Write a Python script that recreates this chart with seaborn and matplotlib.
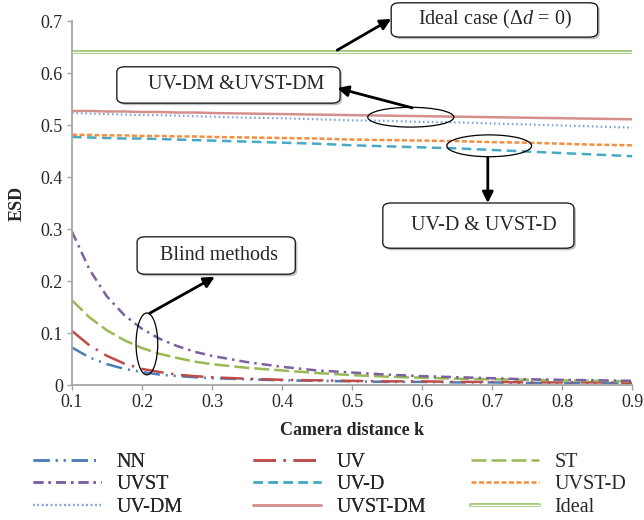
import numpy as np
import pandas as pd
import matplotlib
matplotlib.use("Agg")
import matplotlib.pyplot as plt
import matplotlib.patheffects as pe
from matplotlib.patches import Ellipse, FancyBboxPatch
import seaborn as sns

# ---------------- data ----------------
k = [0.100, 0.125, 0.150, 0.175, 0.200, 0.225, 0.250, 0.275, 0.300,
     0.35, 0.40, 0.45, 0.50, 0.55, 0.60, 0.65, 0.70, 0.75, 0.80, 0.85, 0.90]
nn = [0.072, 0.053, 0.040, 0.031, 0.025, 0.020, 0.017, 0.015, 0.013,
      0.011, 0.009, 0.008, 0.007, 0.006, 0.006, 0.005, 0.005, 0.004, 0.004, 0.004, 0.003]
uv = [0.104, 0.076, 0.056, 0.041, 0.031, 0.025, 0.020, 0.017, 0.015,
      0.012, 0.010, 0.009, 0.008, 0.007, 0.007, 0.006, 0.006, 0.005, 0.005, 0.005, 0.004]
st = [0.163, 0.130, 0.105, 0.086, 0.071, 0.060, 0.052, 0.045, 0.040,
      0.033, 0.028, 0.023, 0.019, 0.016, 0.014, 0.012, 0.011, 0.010, 0.009, 0.008, 0.007]
uvst = [0.295, 0.222, 0.170, 0.134, 0.108, 0.089, 0.075, 0.064, 0.056,
        0.044, 0.035, 0.028, 0.024, 0.020, 0.017, 0.015, 0.013, 0.011, 0.010, 0.009, 0.008]
uv_d = [0.477, 0.476, 0.475, 0.474, 0.474, 0.473, 0.472, 0.471, 0.470,
        0.468, 0.466, 0.464, 0.461, 0.459, 0.457, 0.455, 0.452, 0.449, 0.446, 0.443, 0.440]
uvst_d = [0.481, 0.481, 0.480, 0.480, 0.479, 0.479, 0.478, 0.478, 0.477,
          0.476, 0.475, 0.474, 0.472, 0.471, 0.470, 0.469, 0.467, 0.466, 0.464, 0.462, 0.461]
uv_dm = [0.523, 0.522, 0.521, 0.520, 0.519, 0.519, 0.518, 0.517, 0.516,
         0.514, 0.513, 0.511, 0.509, 0.508, 0.506, 0.505, 0.503, 0.501, 0.499, 0.497, 0.495]
uvst_dm = [0.527, 0.527, 0.526, 0.526, 0.525, 0.525, 0.524, 0.524, 0.523,
           0.522, 0.521, 0.520, 0.519, 0.518, 0.517, 0.516, 0.515, 0.514, 0.513, 0.512, 0.511]
ideal = [0.64] * 21

names = ["NN", "UV", "ST", "UVST", "UV-D", "UVST-D", "UV-DM", "UVST-DM", "Ideal"]
values = [nn, uv, st, uvst, uv_d, uvst_d, uv_dm, uvst_dm, ideal]

xticks = [0.1, 0.2, 0.3, 0.4, 0.5, 0.6, 0.7, 0.8, 0.9]
xticklabels = ["0.1", "0.2", "0.3", "0.4", "0.5", "0.6", "0.7", "0.8", "0.9"]
yticks = [0.0, 0.1, 0.2, 0.3, 0.4, 0.5, 0.6, 0.7]
yticklabels = ["0", "0.1", "0.2", "0.3", "0.4", "0.5", "0.6", "0.7"]

# ---------------- style ----------------
colors = {"NN": "#4A7EBB", "UV": "#BE4B48", "ST": "#98B954", "UVST": "#7D60A0",
          "UV-D": "#46AAC5", "UVST-D": "#F38F3F", "UV-DM": "#7F9FDB",
          "UVST-DM": "#D48F8D", "Ideal": "#FFFFFF"}
dashes = {"NN": (6.5, 2.4, 0.8, 2.4, 0.8, 2.4), "UV": (9, 3, 1, 3), "ST": (6, 2),
          "UVST": (4, 2, 1, 2), "UV-D": (3.8, 2.2), "UVST-D": (2, 1),
          "UV-DM": (0.7, 1.3), "UVST-DM": None, "Ideal": None}

sns.set_theme(style="white")
plt.rcParams['font.family'] = ['Liberation Serif', 'DejaVu Serif']
plt.rcParams['mathtext.fontset'] = 'custom'
plt.rcParams['mathtext.rm'] = 'Liberation Serif'
plt.rcParams['mathtext.it'] = 'Liberation Serif:italic'

fig = plt.figure(figsize=(6.44, 5.2), dpi=100)
ax = fig.add_axes([72 / 644, 1 - 385 / 520, 560 / 644, 364 / 520])

lw = 1.8
handles = {}
for name, vals in zip(names, values):
    df = pd.DataFrame({"k": k, "ESD": vals})
    sns.lineplot(data=df, x="k", y="ESD", ax=ax, color=colors[name], linewidth=lw,
                 label=name, legend=False, errorbar=None)
    line = ax.lines[-1]
    if dashes[name] is not None:
        line.set_dashes(dashes[name])
    if name == "UV-DM":
        line.set_linewidth(1.6)
    if name == "Ideal":
        line.set_linewidth(0.9)
        line.set_path_effects([pe.Stroke(linewidth=2.9, foreground="#A3CB7C"), pe.Normal()])
    handles[name] = line

ax.set_xlim(0.1, 0.9)
ax.set_ylim(0, 0.7)
ax.set_xticks(xticks)
ax.set_xticklabels(xticklabels)
ax.set_yticks(yticks)
ax.set_yticklabels(yticklabels)
ax.tick_params(axis="both", which="major", labelsize=13, length=3.5, width=1.0,
               color="#A0A0A0", direction="out", pad=3, bottom=True, left=True)
for s in ["top", "right"]:
    ax.spines[s].set_visible(False)
for s in ["left", "bottom"]:
    ax.spines[s].set_color("#A6A6A6")
    ax.spines[s].set_linewidth(1.3)
ax.set_xlabel("Camera distance k", fontsize=13, fontweight="bold", labelpad=8)
ax.set_ylabel("ESD", fontsize=13, fontweight="bold", labelpad=11)

# ---------------- annotations ----------------
ann_fs = 14.5

def box(x0, x1, y0, y1, text, tx, ty):
    p = FancyBboxPatch((x0, y0), x1 - x0, y1 - y0,
                       boxstyle="round,pad=0,rounding_size=0.012",
                       mutation_aspect=0.85,
                       facecolor="white", edgecolor="#222222", linewidth=1.0,
                       clip_on=False, zorder=5,
                       path_effects=[pe.SimplePatchShadow(offset=(1.5, -1.5), shadow_rgbFace="#999999", alpha=0.6), pe.Normal()])
    ax.add_patch(p)
    ax.text(tx, ty, text, fontsize=ann_fs, ha="center", va="center", zorder=6, clip_on=False)

def arrow(x0, y0, x1, y1):
    ax.annotate("", xy=(x1, y1), xytext=(x0, y0),
                arrowprops=dict(arrowstyle="-|>", color="black", lw=2.0,
                                mutation_scale=16, shrinkA=0, shrinkB=0),
                zorder=7, annotation_clip=False)

def ell(cx, cy, w, h):
    ax.add_patch(Ellipse((cx, cy), w, h, facecolor="none", edgecolor="black",
                         linewidth=0.9, zorder=6))

box(0.193, 0.419, 0.213, 0.285, "Blind methods", 0.310, 0.250)
box(0.556, 0.851, 0.669, 0.735, r"Ideal case ($\Delta d$ = 0)", 0.704, 0.702)
box(0.164, 0.483, 0.542, 0.612, "UV-DM &UVST-DM", 0.334, 0.577)
box(0.544, 0.817, 0.263, 0.350, "UV-D & UVST-D", 0.689, 0.307)

ell(0.207, 0.079, 0.031, 0.119)
ell(0.584, 0.515, 0.123, 0.038)
ell(0.696, 0.460, 0.121, 0.042)

arrow(0.211, 0.138, 0.304, 0.208)
arrow(0.479, 0.644, 0.556, 0.704)
arrow(0.586, 0.533, 0.479, 0.571)
arrow(0.694, 0.438, 0.694, 0.350)

# ---------------- legend (3 columns) ----------------
cols = [["NN", "UVST", "UV-DM"], ["UV", "UV-D", "UVST-DM"], ["ST", "UVST-D", "Ideal"]]
xs = [33, 253, 471]
legs = []
for names_c, x in zip(cols, xs):
    lg = fig.legend([handles[n] for n in names_c], names_c, loc="upper left",
                    bbox_to_anchor=(x / 644, 1 - 453 / 520), bbox_transform=fig.transFigure,
                    frameon=False, fontsize=14.5, handlelength=3.4, handletextpad=0.75,
                    labelspacing=0.16, borderpad=0, borderaxespad=0)
    legs.append(lg)
for lg in legs[:-1]:
    fig.add_artist(lg)

fig.savefig("out.png", dpi=100)
